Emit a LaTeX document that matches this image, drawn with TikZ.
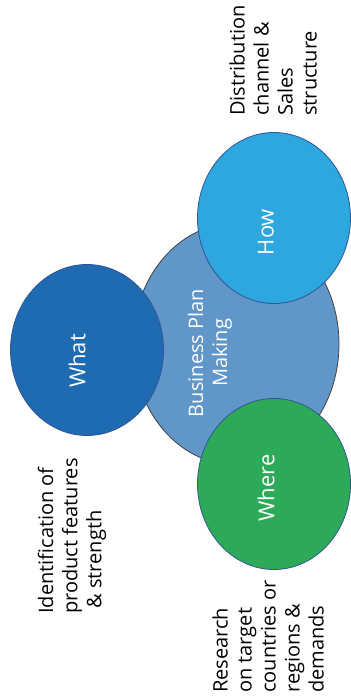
\documentclass[tikz,border=0pt]{standalone}
\usepackage{fontspec}
\setmainfont{Open Sans}
\usepackage{xcolor}
\usetikzlibrary{shapes.geometric}

\definecolor{planblue}{RGB}{97,150,200}
\definecolor{whatblue}{RGB}{31,107,178}
\definecolor{howblue}{RGB}{46,166,222}
\definecolor{wheregreen}{RGB}{45,170,87}
\definecolor{rimblue}{RGB}{47,85,151}

\tikzset{
  bubble/.style={ellipse, rotate=90, draw=rimblue, line width=0.6pt, inner sep=0pt,
    minimum width=128.25pt, minimum height=114.75pt},
  bubblelabel/.style={rotate=90, text=white, inner sep=0pt, font=\fontsize{16.5}{19}\selectfont},
  sidenote/.style={rotate=90, anchor=west, align=left, inner sep=0pt, font=\fontsize{15}{18}\selectfont}
}

\begin{document}
\begin{tikzpicture}[x=0.75pt, y=-0.75pt, line join=round]
  \useasboundingbox (0,0) rectangle (350,699);
  \node[bubble, draw=black!75, fill=planblue, minimum width=181.5pt, minimum height=154.5pt] (plan) at (236,344) {};
  \node[bubble, fill=whatblue] (what) at (87,350) {};
  \node[bubble, fill=howblue] (how) at (274,218) {};
  \node[bubble, fill=wheregreen] (where) at (274,484) {};
  \node[bubblelabel, align=center, font=\fontsize{15}{18}\selectfont] (planlabel) at (210,353) {Business Plan\\Making};
  \node[bubblelabel] (whatlabel) at (77,361) {What};
  \node[bubblelabel] (howlabel) at (266,232) {How};
  \node[bubblelabel] (wherelabel) at (266,488) {Where};
  \node[sidenote] (hownote) at (273,116) {Distribution\\channel \&\\Sales\\structure};
  \node[sidenote] (whatnote) at (72,614) {Identification of\\product features\\\ \& strength};
  \node[sidenote] (wherenote) at (268,693) {Research\\on target\\countries or\\regions \&\\demands};
\end{tikzpicture}
\end{document}
